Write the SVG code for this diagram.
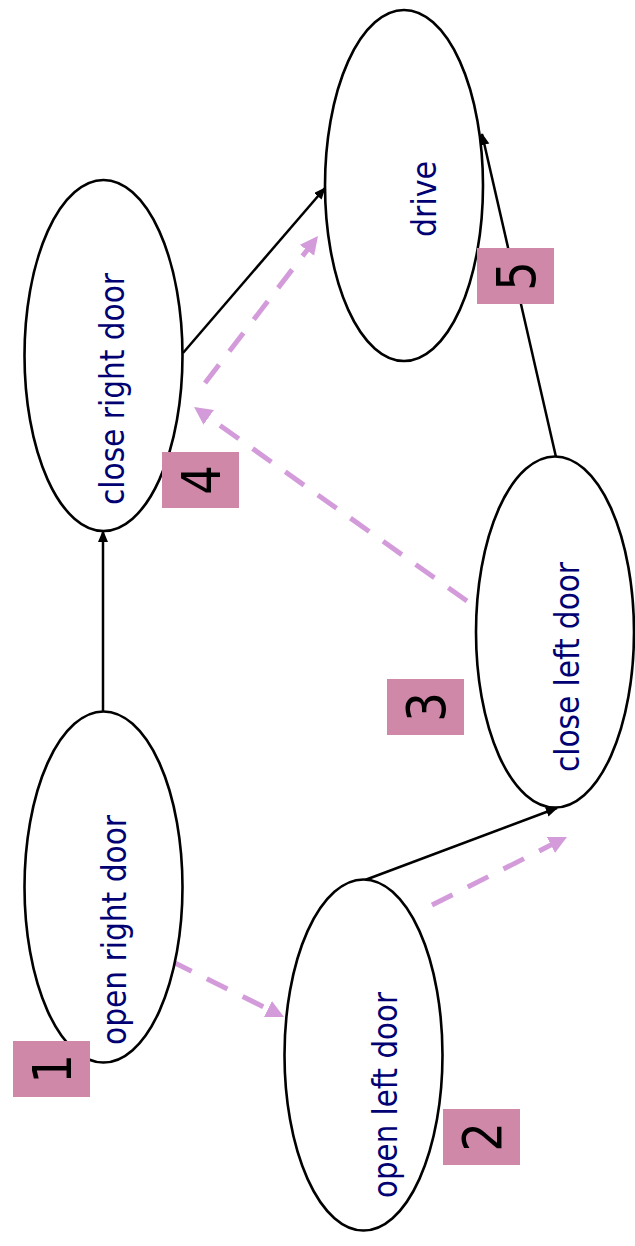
<svg xmlns="http://www.w3.org/2000/svg" width="635" height="1246" viewBox="0 0 635 1246">
<style>
.node ellipse{fill:#ffffff;stroke:#000000;stroke-width:2.6}
.node text{font-family:"DejaVu Sans",Verdana,sans-serif;font-size:33px;fill:#000073;text-anchor:middle}
.solid{stroke:#000000;stroke-width:2.5;fill:none;marker-end:url(#ab)}
.dash{stroke:#D49BDB;stroke-width:5;fill:none;stroke-dasharray:23 17;marker-end:url(#ap)}
.lbl rect{fill:#D088A9}
.lbl text{font-family:"DejaVu Sans",Verdana,sans-serif;font-size:53px;fill:#000000;text-anchor:middle}
</style>
<defs>
<marker id="ab" markerUnits="userSpaceOnUse" markerWidth="13" markerHeight="11" refX="11" refY="5" orient="auto">
<path d="M0,0 L12,5 L0,10 z" fill="#000000"/>
</marker>
<marker id="ap" markerUnits="userSpaceOnUse" markerWidth="19" markerHeight="19" refX="1" refY="9" orient="auto">
<path d="M0,0 L18,9 L0,18 z" fill="#D49BDB"/>
</marker>
</defs>
<rect x="0" y="0" width="635" height="1246" fill="#ffffff"/>
<g id="connectors">
<line class="solid" x1="103" y1="712" x2="103" y2="531"/>
<line class="solid" x1="183" y1="353" x2="325" y2="188"/>
<line class="solid" x1="556" y1="457" x2="482" y2="134"/>
<line class="solid" x1="365" y1="880" x2="557" y2="808"/>
<line class="dash" x1="171" y1="961" x2="268.8" y2="1009.5"/>
<line class="dash" x1="432" y1="905" x2="551.8" y2="844.6"/>
<line class="dash" x1="467" y1="601" x2="207.9" y2="416.8"/>
<line class="dash" x1="205" y1="383" x2="307.6" y2="249.5"/>
</g>
<g id="drive" class="node">
<ellipse cx="404" cy="185.5" rx="79" ry="175.5"/>
<text transform="translate(436,199) rotate(-90)" textLength="76" lengthAdjust="spacingAndGlyphs">drive</text>
</g>
<g id="close-right-door" class="node">
<ellipse cx="103.5" cy="355.5" rx="79" ry="175.5"/>
<text transform="translate(124,389) rotate(-90)" textLength="232" lengthAdjust="spacingAndGlyphs">close right door</text>
</g>
<g id="open-right-door" class="node">
<ellipse cx="103.5" cy="887" rx="79" ry="175.5"/>
<text transform="translate(126,930) rotate(-90)" textLength="230" lengthAdjust="spacingAndGlyphs">open right door</text>
</g>
<g id="open-left-door" class="node">
<ellipse cx="363.5" cy="1055" rx="79" ry="175.5"/>
<text transform="translate(397,1095) rotate(-90)" textLength="206" lengthAdjust="spacingAndGlyphs">open left door</text>
</g>
<g id="close-left-door" class="node">
<ellipse cx="555" cy="632" rx="79" ry="175.5"/>
<text transform="translate(579,667) rotate(-90)" textLength="210" lengthAdjust="spacingAndGlyphs">close left door</text>
</g>
<g id="label-1" class="lbl">
<rect x="13" y="1041" width="77" height="56"/>
<text transform="translate(51.5,1069) rotate(-90) scale(0.88,1)" y="19">1</text>
</g>
<g id="label-2" class="lbl">
<rect x="443" y="1109" width="77" height="56"/>
<text transform="translate(481.5,1137) rotate(-90) scale(0.88,1)" y="19">2</text>
</g>
<g id="label-3" class="lbl">
<rect x="387" y="679" width="77" height="56"/>
<text transform="translate(425.5,707) rotate(-90) scale(0.88,1)" y="19">3</text>
</g>
<g id="label-4" class="lbl">
<rect x="162" y="452" width="77" height="56"/>
<text transform="translate(200.5,480) rotate(-90) scale(0.88,1)" y="19">4</text>
</g>
<g id="label-5" class="lbl">
<rect x="477" y="248" width="77" height="56"/>
<text transform="translate(515.5,276) rotate(-90) scale(0.88,1)" y="19">5</text>
</g>
</svg>
